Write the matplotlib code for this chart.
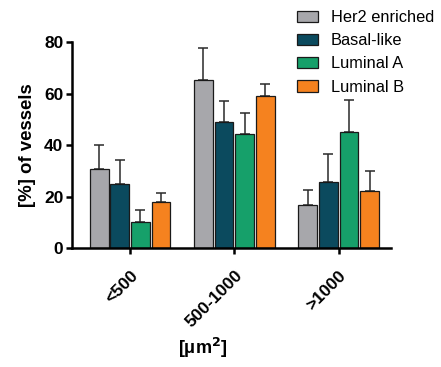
import matplotlib
matplotlib.use("Agg")
import matplotlib.pyplot as plt
import matplotlib.transforms as mtransforms
import numpy as np

plt.rcParams['font.family'] = ['Liberation Sans', 'DejaVu Sans']

categories = ["<500", "500-1000", ">1000"]
series = ["Her2 enriched", "Basal-like", "Luminal A", "Luminal B"]
her2 = [30.8, 65.5, 16.8]
her2_err = [9.3, 12.2, 5.7]
basal = [25.0, 48.9, 25.7]
basal_err = [9.4, 8.2, 11.0]
luma = [10.3, 44.4, 45.2]
luma_err = [4.7, 8.1, 12.3]
lumb = [18.1, 59.3, 22.3]
lumb_err = [3.3, 4.5, 7.8]
colors = ["#a7a7ab", "#0b4a5e", "#16a06a", "#f5821f"]

values = [her2, basal, luma, lumb]
errors = [her2_err, basal_err, luma_err, lumb_err]

fig = plt.figure(figsize=(4.41, 3.67), dpi=100)
ax = fig.add_axes([0.1626, 0.3234, 0.7234, 0.5613])

x = np.arange(len(categories))
slot = 0.198
width = 0.18
for i, (vals, errs, c, name) in enumerate(zip(values, errors, colors, series)):
    pos = x + (i - 1.5) * slot
    ax.bar(pos, vals, width=width, color=c, edgecolor="#1a1a1a", linewidth=0.9, label=name, zorder=2)
    ax.errorbar(pos, vals, yerr=[np.zeros(len(vals)), errs], fmt="none",
                ecolor="#2a2a2a", elinewidth=1.1, capsize=3.4, capthick=1.1, zorder=1)

ax.set_xlim(-0.56, 2.5)
ax.set_ylim(0, 80)
ax.set_yticks([0, 20, 40, 60, 80])
ax.set_xticks(x)
ax.set_xticklabels(categories, rotation=45, ha="right", rotation_mode="anchor",
                   fontsize=12.5, fontweight="bold")
offset = mtransforms.ScaledTranslation(-6 / 100, 0, fig.dpi_scale_trans)
for lbl in ax.get_xticklabels():
    lbl.set_transform(lbl.get_transform() + offset)
for lbl in ax.get_yticklabels():
    lbl.set_fontweight("bold")
    lbl.set_fontsize(12.5)
ax.spines["top"].set_visible(False)
ax.spines["right"].set_visible(False)
ax.spines["left"].set_linewidth(1.8)
ax.spines["bottom"].set_linewidth(1.8)
ax.tick_params(axis="both", width=1.8, length=4, direction="out")
ax.tick_params(axis="y", pad=2)
ax.tick_params(axis="x", pad=10)
ax.set_ylabel("[%] of vessels", fontsize=13.4, fontweight="bold", labelpad=6)
ax.set_xlabel("[μm$^\\mathbf{2}$]", fontsize=13, fontweight="bold")
ax.xaxis.set_label_coords(0.41, -0.484)
ax.xaxis.label.set_va("center")

fig.legend(loc="center left", bbox_to_anchor=(0.655, 1 - 52.3 / 367), frameon=False,
           fontsize=11.8, handlelength=1.3, handleheight=0.7,
           labelspacing=0.5, handletextpad=0.75, borderpad=0)

fig.savefig("out.png", dpi=100)
